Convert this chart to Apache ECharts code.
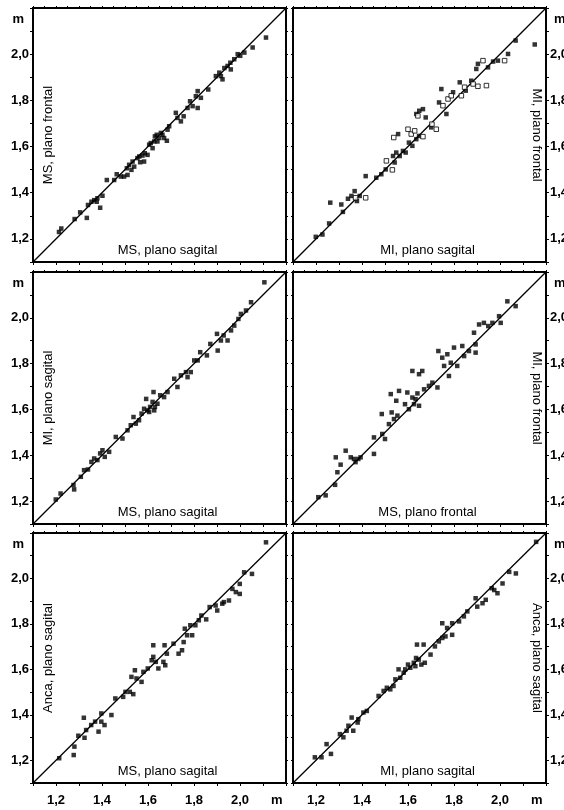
<!DOCTYPE html>
<html>
<head>
<meta charset="utf-8">
<script src="https://cdn.jsdelivr.net/npm/echarts@6/dist/echarts.min.js"></script>
<style>
  html, body { margin: 0; padding: 0; background: #fff; }
  #chart { width: 564px; height: 810px; }
</style>
</head>
<body>
<div id="chart"></div>
<script>
// Axis scale shared by every panel (metres)
const AXIS_MIN = 1.1;
const AXIS_MAX = 2.2;
const LABEL_VALUES = [1.2, 1.4, 1.6, 1.8, 2.0];
const UNIT_LABEL = 'm';
const UNIT_VALUE = 2.16;

// Panel titles (x = horizontal measure, y = vertical measure)
const xTitles = ['MS, plano sagital', 'MI, plano sagital', 'MS, plano sagital',
                 'MS, plano frontal', 'MS, plano sagital', 'MI, plano sagital'];
const yTitles = ['MS, plano frontal', 'MI, plano frontal', 'MI, plano sagital',
                 'MI, plano frontal', 'Anca, plano sagital', 'Anca, plano sagital'];

// MS sagital vs MS frontal
const msSagMsFront = [
  [1.213,1.230],[1.223,1.245],[1.281,1.286],[1.305,1.315],[1.334,1.291],[1.339,1.347],
  [1.354,1.361],[1.366,1.368],[1.377,1.361],[1.380,1.376],[1.392,1.335],[1.402,1.387],
  [1.421,1.455],[1.453,1.455],[1.464,1.480],[1.482,1.470],[1.496,1.470],[1.508,1.506],
  [1.511,1.477],[1.518,1.521],[1.528,1.499],[1.533,1.535],[1.540,1.513],[1.554,1.550],
  [1.562,1.557],[1.566,1.532],[1.576,1.561],[1.583,1.535],[1.586,1.571],[1.598,1.564],
  [1.605,1.608],[1.612,1.615],[1.620,1.593],[1.627,1.622],[1.630,1.644],[1.638,1.651],
  [1.641,1.622],[1.649,1.637],[1.656,1.659],[1.663,1.651],[1.670,1.637],[1.682,1.625],
  [1.685,1.673],[1.692,1.688],[1.721,1.746],[1.728,1.724],[1.743,1.709],[1.755,1.731],
  [1.772,1.767],[1.783,1.796],[1.794,1.775],[1.808,1.818],[1.816,1.840],[1.816,1.767],
  [1.830,1.811],[1.862,1.847],[1.895,1.905],[1.910,1.920],[1.917,1.905],[1.924,1.891],
  [1.932,1.940],[1.946,1.949],[1.958,1.963],[1.960,1.934],[1.975,1.978],[1.990,2.000],
  [2.001,1.993],[2.019,2.007],[2.055,2.029],[2.113,2.072]
];

// MI sagital vs MI frontal (filled and open markers)
const miSagMiFrontFilled = [
  [1.199,1.209],[1.228,1.219],[1.257,1.267],[1.262,1.357],[1.310,1.349],[1.317,1.317],
  [1.339,1.374],[1.354,1.386],[1.368,1.407],[1.378,1.364],[1.390,1.386],[1.416,1.472],
  [1.462,1.465],[1.484,1.480],[1.503,1.501],[1.535,1.559],[1.549,1.574],[1.564,1.559],
  [1.542,1.531],[1.578,1.581],[1.590,1.574],[1.557,1.654],[1.619,1.603],[1.636,1.632],
  [1.648,1.646],[1.604,1.617],[1.636,1.741],[1.649,1.755],[1.665,1.762],[1.677,1.726],
  [1.701,1.683],[1.745,1.849],[1.735,1.791],[1.767,1.741],[1.796,1.835],[1.825,1.878],
  [1.851,1.842],[1.875,1.885],[1.897,1.936],[1.904,1.958],[1.948,1.943],[1.970,1.968],
  [1.991,1.972],[2.035,2.001],[2.068,2.059],[2.151,2.042]
];
const miSagMiFrontOpen = [
  [1.372,1.378],[1.416,1.378],[1.532,1.499],[1.506,1.538],[1.538,1.639],[1.600,1.675],
  [1.614,1.654],[1.629,1.668],[1.665,1.643],[1.643,1.733],[1.704,1.697],[1.723,1.675],
  [1.752,1.777],[1.774,1.806],[1.788,1.820],[1.832,1.820],[1.846,1.857],[1.883,1.871],
  [1.904,1.861],[1.941,1.864],[1.926,1.972],[2.020,1.972]
];

// MS sagital vs MI sagital
const msSagMiSag = [
  [1.199,1.207],[1.220,1.233],[1.276,1.270],[1.279,1.251],[1.308,1.306],[1.322,1.335],
  [1.339,1.338],[1.354,1.371],[1.366,1.386],[1.380,1.379],[1.392,1.408],[1.412,1.393],
  [1.402,1.422],[1.431,1.415],[1.460,1.480],[1.489,1.473],[1.511,1.509],[1.525,1.531],
  [1.537,1.567],[1.547,1.538],[1.561,1.553],[1.572,1.582],[1.583,1.603],[1.592,1.646],
  [1.598,1.596],[1.605,1.589],[1.609,1.611],[1.620,1.633],[1.627,1.596],[1.624,1.676],
  [1.630,1.611],[1.641,1.625],[1.653,1.662],[1.670,1.654],[1.685,1.676],[1.714,1.734],
  [1.728,1.698],[1.743,1.749],[1.765,1.763],[1.772,1.741],[1.786,1.763],[1.801,1.814],
  [1.816,1.814],[1.827,1.850],[1.856,1.836],[1.871,1.886],[1.900,1.930],[1.903,1.857],
  [1.917,1.901],[1.929,1.923],[1.946,1.901],[1.961,1.945],[1.975,1.966],[1.993,1.995],
  [2.004,2.017],[2.026,2.032],[2.048,2.068],[2.106,2.155]
];

// MS frontal vs MI frontal
const msFrontMiFront = [
  [1.210,1.217],[1.242,1.225],[1.283,1.271],[1.293,1.326],[1.286,1.391],[1.307,1.359],
  [1.329,1.420],[1.351,1.391],[1.365,1.384],[1.372,1.370],[1.384,1.384],[1.394,1.391],
  [1.452,1.406],[1.452,1.478],[1.488,1.493],[1.500,1.471],[1.486,1.580],[1.529,1.587],
  [1.517,1.536],[1.539,1.558],[1.554,1.573],[1.525,1.667],[1.549,1.638],[1.561,1.681],
  [1.587,1.623],[1.597,1.674],[1.604,1.601],[1.619,1.652],[1.626,1.623],[1.633,1.645],
  [1.648,1.616],[1.641,1.670],[1.619,1.768],[1.648,1.754],[1.662,1.768],[1.670,1.688],
  [1.691,1.703],[1.706,1.717],[1.728,1.696],[1.732,1.855],[1.749,1.826],[1.757,1.790],
  [1.771,1.841],[1.786,1.804],[1.778,1.746],[1.800,1.870],[1.814,1.790],[1.836,1.877],
  [1.844,1.833],[1.865,1.855],[1.894,1.884],[1.894,1.848],[1.887,1.935],[1.909,1.971],
  [1.930,1.978],[1.949,1.964],[1.967,1.978],[1.996,2.007],[2.003,1.978],[2.032,2.072],
  [2.068,2.051]
];

// MS sagital vs Anca sagital
const msSagAncaSag = [
  [1.214,1.209],[1.277,1.223],[1.280,1.260],[1.297,1.308],[1.321,1.387],[1.324,1.299],
  [1.331,1.333],[1.353,1.355],[1.370,1.370],[1.385,1.326],[1.397,1.370],[1.411,1.355],
  [1.397,1.406],[1.441,1.399],[1.458,1.472],[1.492,1.479],[1.502,1.501],[1.521,1.501],
  [1.536,1.491],[1.528,1.567],[1.543,1.596],[1.550,1.560],[1.572,1.545],[1.580,1.589],
  [1.599,1.604],[1.616,1.640],[1.623,1.655],[1.623,1.706],[1.634,1.633],[1.645,1.604],
  [1.667,1.633],[1.672,1.706],[1.682,1.669],[1.675,1.618],[1.711,1.713],[1.733,1.669],
  [1.748,1.684],[1.760,1.779],[1.770,1.750],[1.755,1.720],[1.784,1.794],[1.792,1.750],
  [1.806,1.794],[1.821,1.816],[1.832,1.837],[1.853,1.820],[1.868,1.874],[1.894,1.881],
  [1.901,1.859],[1.923,1.889],[1.930,1.896],[1.952,1.903],[1.967,1.954],[1.982,1.940],
  [1.999,1.932],[1.999,1.976],[2.018,2.027],[2.052,2.020],[2.113,2.159]
];

// MI sagital vs Anca sagital
const miSagAncaSag = [
  [1.195,1.213],[1.224,1.213],[1.246,1.271],[1.265,1.228],[1.304,1.315],[1.319,1.301],
  [1.333,1.330],[1.341,1.352],[1.355,1.388],[1.362,1.330],[1.381,1.366],[1.384,1.381],
  [1.406,1.410],[1.421,1.417],[1.472,1.483],[1.494,1.505],[1.508,1.519],[1.523,1.512],
  [1.537,1.527],[1.545,1.556],[1.559,1.600],[1.566,1.563],[1.581,1.585],[1.588,1.600],
  [1.600,1.621],[1.610,1.607],[1.625,1.629],[1.635,1.650],[1.647,1.643],[1.658,1.621],
  [1.673,1.629],[1.639,1.709],[1.668,1.709],[1.632,1.614],[1.698,1.665],[1.717,1.701],
  [1.734,1.723],[1.749,1.738],[1.763,1.745],[1.749,1.803],[1.770,1.782],[1.792,1.752],
  [1.792,1.803],[1.822,1.811],[1.843,1.833],[1.858,1.855],[1.894,1.913],[1.901,1.876],
  [1.924,1.891],[1.938,1.906],[1.964,1.957],[1.975,1.949],[1.989,1.935],[2.011,1.978],
  [2.040,2.029],[2.069,2.022],[2.157,2.161]
];

const panels = [
  { filled: msSagMsFront },
  { filled: miSagMiFrontFilled, open: miSagMiFrontOpen },
  { filled: msSagMiSag },
  { filled: msFrontMiFront },
  { filled: msSagAncaSag },
  { filled: miSagAncaSag }
];

const FONT = '"Liberation Sans", Arial, sans-serif';
const INK = '#000';

function stepValues(step) {
  const out = [];
  const n = Math.round((AXIS_MAX - AXIS_MIN) / step);
  for (let k = 0; k <= n; k++) out.push(+(AXIS_MIN + k * step).toFixed(3));
  return out;
}
const TICKS_MAJOR = stepValues(0.1);
const TICKS_MINOR = stepValues(0.05);

function fmt(v) {
  if (v > 2.1) return UNIT_LABEL;
  return v.toFixed(1).replace('.', ',');
}

// panel frames
const colLeft = [33, 293];
const rowTop = [8, 272, 533];
const rowHeight = [254, 252, 250];
const panelWidth = 253;

const labelFont = { color: INK, fontFamily: FONT, fontSize: 13, fontWeight: 'bold' };
const titleFont = { color: INK, fontFamily: FONT, fontSize: 13 };

const grids = [], xAxes = [], yAxes = [], series = [];

panels.forEach((p, i) => {
  const col = i % 2, row = Math.floor(i / 2);
  grids.push({
    left: colLeft[col], top: rowTop[row], width: panelWidth, height: rowHeight[row],
    show: true, borderColor: '#000', borderWidth: 1.8, backgroundColor: '#fff',
    outerBoundsMode: 'none', containLabel: false
  });
  const lineStyle = { color: '#000', width: 1.8 };
  // bottom axis
  xAxes.push({
    type: 'value', gridIndex: i, position: 'bottom', min: AXIS_MIN, max: AXIS_MAX,
    axisLine: { show: true, lineStyle },
    splitLine: { show: false },
    axisTick: { show: true, customValues: TICKS_MAJOR, length: 3, lineStyle: { color: '#000', width: 1 } },
    axisLabel: Object.assign({
      show: row === 2, customValues: LABEL_VALUES.concat([UNIT_VALUE]), formatter: fmt, margin: 11
    }, labelFont),
    name: xTitles[i], nameLocation: 'middle', nameGap: -18,
    nameTextStyle: Object.assign({ padding: [0, 0, 0, 16] }, titleFont)
  });
  const xMainIdx = xAxes.length - 1;
  // top edge ticks
  xAxes.push({
    type: 'value', gridIndex: i, position: 'top', min: AXIS_MIN, max: AXIS_MAX,
    axisLine: { show: true, lineStyle },
    splitLine: { show: false },
    axisTick: { show: true, customValues: TICKS_MINOR, length: 2, lineStyle: { color: '#000', width: 1 } },
    axisLabel: { show: false }
  });
  // vertical axis with labels
  const side = col === 0 ? 'left' : 'right';
  yAxes.push({
    type: 'value', gridIndex: i, position: side, min: AXIS_MIN, max: AXIS_MAX,
    axisLine: { show: true, lineStyle },
    splitLine: { show: false },
    axisTick: { show: true, customValues: TICKS_MAJOR, length: 3, lineStyle: { color: '#000', width: 1 } },
    axisLabel: Object.assign({
      customValues: LABEL_VALUES.concat([2.15]), margin: 4,
      formatter: v => v > 2.1 ? '{u|' + UNIT_LABEL + '}' : fmt(v),
      rich: { u: Object.assign({ padding: col === 0 ? [0, 5, 0, 0] : [0, 0, 0, 4] }, labelFont) }
    }, labelFont),
    name: yTitles[i], nameLocation: 'middle', nameGap: col === 0 ? -22 : -16,
    nameRotate: col === 0 ? 90 : -90,
    nameTextStyle: titleFont
  });
  const yMainIdx = yAxes.length - 1;
  // opposite edge ticks
  yAxes.push({
    type: 'value', gridIndex: i, position: col === 0 ? 'right' : 'left', min: AXIS_MIN, max: AXIS_MAX,
    axisLine: { show: true, lineStyle },
    splitLine: { show: false },
    axisTick: { show: true, customValues: TICKS_MAJOR, length: 2, lineStyle: { color: '#000', width: 1 } },
    axisLabel: { show: false }
  });

  // identity line
  series.push({
    type: 'line', xAxisIndex: xMainIdx, yAxisIndex: yMainIdx,
    data: [[AXIS_MIN, AXIS_MIN], [AXIS_MAX, AXIS_MAX]],
    showSymbol: false, silent: true, animation: false,
    lineStyle: { color: '#000', width: 1.3 }, z: 2
  });
  series.push({
    type: 'scatter', xAxisIndex: xMainIdx, yAxisIndex: yMainIdx,
    data: p.filled, symbol: 'rect', symbolSize: 4.5, animation: false,
    itemStyle: { color: '#000' }, z: 3
  });
  if (p.open) {
    series.push({
      type: 'scatter', xAxisIndex: xMainIdx, yAxisIndex: yMainIdx,
      data: p.open, symbol: 'rect', symbolSize: 4.5, animation: false,
      itemStyle: { color: '#fff', borderColor: '#000', borderWidth: 1 }, z: 4
    });
  }
});

const chart = echarts.init(document.getElementById('chart'), null, { renderer: 'canvas' });
chart.setOption({
  backgroundColor: '#fff',
  animation: false,
  grid: grids,
  xAxis: xAxes,
  yAxis: yAxes,
  series: series
});
</script>
</body>
</html>
